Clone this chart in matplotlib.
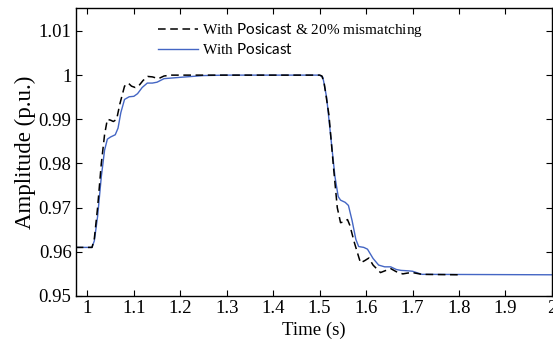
import matplotlib
matplotlib.use('Agg')
import numpy as np
import matplotlib.pyplot as plt

plt.rcParams['font.family'] = ['Liberation Serif', 'DejaVu Serif']
plt.rcParams['mathtext.fontset'] = 'custom'
plt.rcParams['mathtext.rm'] = 'Liberation Serif'
plt.rcParams['mathtext.sf'] = 'Lato'

# response with Posicast & 20% mismatching (dashed)
t_mis = [0.975, 1.01, 1.015, 1.022, 1.03, 1.037, 1.043, 1.05, 1.056, 1.063, 1.07, 1.08,
         1.088, 1.095, 1.103, 1.11, 1.12, 1.13, 1.14, 1.153, 1.165, 1.18, 1.5,
         1.505, 1.51, 1.52, 1.53, 1.538, 1.545, 1.553, 1.56, 1.565, 1.575, 1.588,
         1.597, 1.606, 1.615, 1.631, 1.643, 1.653, 1.665, 1.679, 1.69, 1.70, 1.72, 1.8]
y_mis = [0.961, 0.961, 0.963, 0.970, 0.980, 0.9865, 0.990, 0.9898, 0.9895, 0.990, 0.9935, 0.9975,
         0.9982, 0.9975, 0.9972, 0.9975, 0.9988, 0.9997, 0.9996, 0.9992, 0.9998, 1.0, 1.0,
         0.9998, 0.998, 0.991, 0.979, 0.970, 0.9666, 0.9668, 0.9673, 0.966, 0.962, 0.9575,
         0.958, 0.9586, 0.957, 0.9553, 0.9558, 0.9562, 0.9555, 0.955, 0.9552, 0.9553, 0.9549, 0.9548]

# response with Posicast (blue)
t_pos = [0.975, 1.01, 1.015, 1.022, 1.03, 1.037, 1.043, 1.05, 1.06, 1.066, 1.072, 1.08,
         1.09, 1.10, 1.108, 1.118, 1.129, 1.14, 1.15, 1.165, 1.2, 1.25, 1.3, 1.5,
         1.507, 1.515, 1.525, 1.533, 1.54, 1.545, 1.555, 1.562, 1.57, 1.578, 1.584,
         1.595, 1.603, 1.615, 1.627, 1.64, 1.653, 1.665, 1.675, 1.69, 1.70, 1.72, 2.0]
y_pos = [0.961, 0.961, 0.9625, 0.968, 0.977, 0.983, 0.9855, 0.986, 0.9865, 0.988, 0.9915, 0.9945,
         0.9951, 0.9952, 0.9958, 0.9972, 0.9982, 0.9982, 0.9984, 0.9992, 0.9995, 0.9999, 1.0, 1.0,
         0.9995, 0.995, 0.985, 0.977, 0.9725, 0.9717, 0.9712, 0.9705, 0.967, 0.9628, 0.9612,
         0.961, 0.9606, 0.9585, 0.957, 0.9566, 0.9566, 0.956, 0.9558, 0.9557, 0.9556, 0.9549, 0.9548]

xticks = [1, 1.1, 1.2, 1.3, 1.4, 1.5, 1.6, 1.7, 1.8, 1.9, 2]
xlabels = ['1', '1.1', '1.2', '1.3', '1.4', '1.5', '1.6', '1.7', '1.8', '1.9', '2']
yticks = [0.95, 0.96, 0.97, 0.98, 0.99, 1.0, 1.01]
ylabels = ['0.95', '0.96', '0.97', '0.98', '0.99', '1', '1.01']

fig = plt.figure(figsize=(5.53, 3.47), dpi=100)
ax = fig.add_axes([0.137, 0.147, 0.861, 0.830])

l2, = ax.plot(t_pos, y_pos, color='#4466c4', lw=1.0)
l1, = ax.plot(t_mis, y_mis, color='black', lw=1.1, dashes=(5, 3))

ax.set_xlim(0.975, 2)
ax.set_ylim(0.95, 1.0152)
ax.set_xticks(xticks)
ax.set_xticklabels(xlabels)
ax.set_yticks(yticks)
ax.set_yticklabels(ylabels)
ax.tick_params(direction='in', top=True, right=True, labelsize=13.5, length=4, width=0.8, pad=3)
for s in ax.spines.values():
    s.set_linewidth(1.0)

ax.set_xlabel('Time (s)', fontsize=13.5, labelpad=3)
ax.set_ylabel('Amplitude (p.u.)', fontsize=16.5, labelpad=2)

labels = [r'With $\mathsf{Posicast}$ & 20% mismatching', r'With $\mathsf{Posicast}$']
leg = ax.legend(handles=[l1, l2], labels=labels, loc='upper left', bbox_to_anchor=(0.16, 0.975),
                frameon=False, fontsize=11, handlelength=2.6, handletextpad=0.3,
                labelspacing=0.2, borderaxespad=0)

fig.savefig('out.png', dpi=100)
